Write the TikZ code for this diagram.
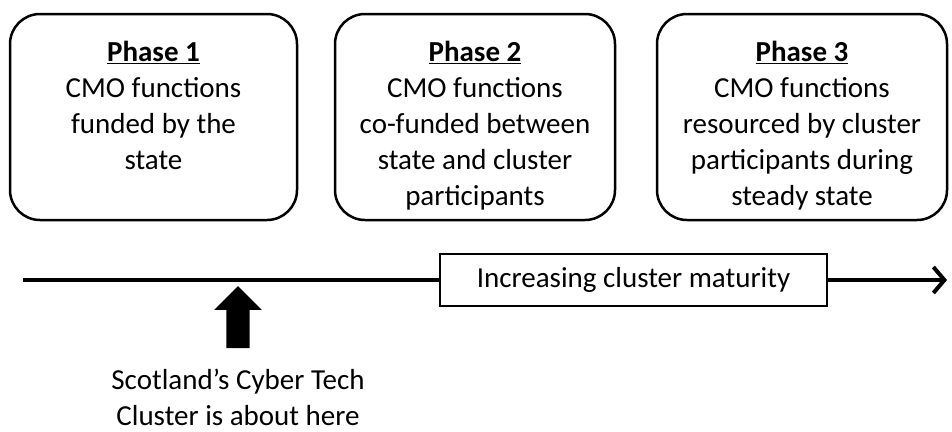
\documentclass[tikz,border=0pt]{standalone}
\usepackage{fontspec}
\setmainfont{Carlito}
\usetikzlibrary{arrows.meta, shapes.arrows, positioning}
\tikzset{
  phase box/.style={
    rounded corners=30pt,
    draw,
    line width=2.5pt,
    inner sep=0pt,
  },
  phase text/.style={
    align=center,
    inner sep=0pt,
    anchor=north,
    font=\fontsize{29}{36}\selectfont,
  },
  maturity box/.style={
    draw,
    fill=white,
    line width=2pt,
    minimum width=387pt,
    minimum height=52pt,
    font=\fontsize{29}{36}\selectfont,
  },
}

\begin{document}
\begin{tikzpicture}[x=1pt, y=-1pt]
      \useasboundingbox (0,0) rectangle (952,431);

      \node[phase box, minimum width=287pt, minimum height=206pt] (p1) at (153.5,117) {};
      \node[phase box, minimum width=280pt, minimum height=206pt] (p2) at (475,117) {};
      \node[phase box, minimum width=290pt, minimum height=206pt] (p3) at (802,117) {};

      \node[phase text] (t1) at (153.5,41) {\textbf{\underline{Phase 1}}\\CMO functions\\funded by the\\state};
      \node[phase text] (t2) at (475,41) {\textbf{\underline{Phase 2}}\\CMO functions\\co-funded between\\state and cluster\\participants};
      \node[phase text] (t3) at (802,41) {\textbf{\underline{Phase 3}}\\CMO functions\\resourced by cluster\\participants during\\steady state};

      % timeline
      \coordinate (start) at (23,280);
      \coordinate (end) at (947,280);
      \node[maturity box] (mat) at (633.5,280) {Increasing cluster maturity};
      \draw[line width=4pt] (start) -- (mat.west);
      \draw[line width=4pt, -{Straight Barb[length=11pt, width=26pt, line width=4pt]}] (mat.east) -- (end);

      % marker
      \node[single arrow, fill=black, rotate=90, inner xsep=0pt, inner ysep=11.5pt,
            minimum height=62pt, minimum width=47pt,
            single arrow head extend=12pt, single arrow head indent=0pt] (here) at (238,323) {};
      \node[phase text] (note) at (238,369) {Scotland’s Cyber Tech\\Cluster is about here};
    \end{tikzpicture}
\end{document}
